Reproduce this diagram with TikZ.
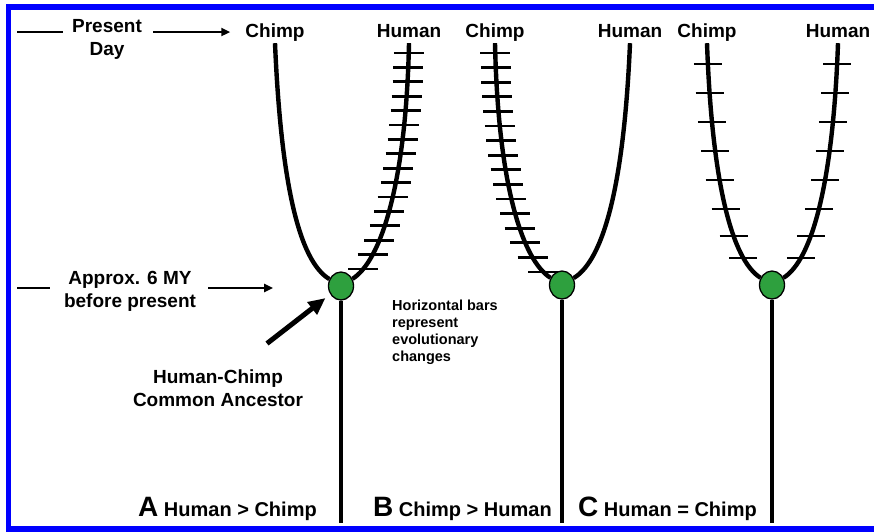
\documentclass[tikz,border=0pt]{standalone}
\usepackage{fontspec}
\setmainfont{Liberation Sans}
\usetikzlibrary{arrows.meta, intersections, shapes.geometric}
\definecolor{frameblue}{RGB}{0, 0, 255}
\definecolor{ancgreen}{RGB}{46, 160, 62}

\tikzset{
  lbl/.style={font=\bfseries\fontsize{19}{23}\selectfont, inner sep=2pt},
  taxon/.style={lbl, text height=14pt, text depth=4pt},
  anc/.style={ellipse, draw=black, line width=1.3pt, fill=ancgreen,
    minimum width=25pt, minimum height=28pt, inner sep=0pt},
  lineage/.style={line width=4.4pt},
  bar/.style={line width=2.8pt},
  pointer/.style={line width=2.6pt, -{Triangle[length=9pt, width=8pt]}},
  bigpointer/.style={line width=5pt, -{Triangle[length=17pt, width=15pt]}},
  case/.style={anchor=base west, inner sep=0pt, font=\bfseries\fontsize{20}{20}\selectfont},
}

\begin{document}
\begin{tikzpicture}[x=1pt, y=-1pt]
    \useasboundingbox (0,0) rectangle (874,531);
    \draw[frameblue, line width=5.5pt] (874,7) -- (8.5,7) -- (8.5,529) -- (874,529);

    % common ancestors
    \node[anc] (nA) at (341,286) {};
    \node[anc] (nB) at (562,285) {};
    \node[anc] (nC) at (772,285) {};

    % taxa
    \node[taxon, anchor=base] (cA) at (275,37) {Chimp};
    \node[taxon, anchor=base] (hA) at (409,37) {Human};
    \node[taxon, anchor=base] (cB) at (495,37) {Chimp};
    \node[taxon, anchor=base] (hB) at (630,37) {Human};
    \node[taxon, anchor=base] (cC) at (707,37) {Chimp};
    \node[taxon, anchor=base] (hC) at (838,37) {Human};

    % lineages
    \draw[lineage, name path=brCA] (cA.south) .. controls +(6,140) and +(-42,-25) .. (nA);
    \draw[lineage, name path=brHA] (hA.south) .. controls +(-3,140) and +(40,-25) .. (nA);
    \draw[lineage, name path=brCB] (cB.south) .. controls +(3,140) and +(-40,-25) .. (nB);
    \draw[lineage, name path=brHB] (hB.south) .. controls +(-6,140) and +(42,-25) .. (nB);
    \draw[lineage, name path=brCC] (cC.south) .. controls +(5,140) and +(-40,-25) .. (nC);
    \draw[lineage, name path=brHC] (hC.south) .. controls +(-5,140) and +(40,-25) .. (nC);
    \draw[lineage] (nA.south) -- (nA.south |- 0,523);
    \draw[lineage] (nB.south) -- (nB.south |- 0,523);
    \draw[lineage] (nC.south) -- (nC.south |- 0,523);

    % evolutionary changes
    \foreach \i [evaluate=\i as \y using 53+14.4*\i] in {0,...,15} {
        \path[name path=cut] (0,\y) -- (874,\y);
        \draw[bar, name intersections={of=brHA and cut, name=t}]
            ([xshift=-15pt]t-1) -- ([xshift=15pt]t-1);
    }
    \foreach \i [evaluate=\i as \y using 53+14.6*\i] in {0,...,15} {
        \path[name path=cut] (0,\y) -- (874,\y);
        \draw[bar, name intersections={of=brCB and cut, name=t}]
            ([xshift=-15pt]t-1) -- ([xshift=15pt]t-1);
    }
    \foreach \y in {64,93,122,151,180,209,236,258} {
        \path[name path=cut] (0,\y) -- (874,\y);
        \draw[bar, name intersections={of=brCC and cut, name=l}]
            ([xshift=-14pt]l-1) -- ([xshift=14pt]l-1);
        \draw[bar, name intersections={of=brHC and cut, name=r}]
            ([xshift=-14pt]r-1) -- ([xshift=14pt]r-1);
    }

    % time labels
    \node[lbl, align=center, anchor=north] (pd) at (107,17.5) {Present\\Day};
    \draw[bar] ([xshift=-7pt]pd.west |- cA.west) -- ++(-46,0);
    \draw[pointer] ([xshift=9pt]pd.east |- cA.west) -- ([xshift=-13pt]cA.west);
    \node[lbl, align=center, anchor=north] (ap) at (130,269.5) {Approx. 6 MY\\before present};
    \draw[bar] ([xshift=-12pt]ap.west |- 0,288) -- ++(-33,0);
    \draw[pointer] ([xshift=10pt]ap.east |- 0,288) -- ++(65,0);

    % ancestor label
    \node[lbl, align=center, anchor=north] (ca) at (218,367.5) {Human-Chimp\\Common Ancestor};
    \draw[bigpointer, shorten >=6pt] ([shift={(49,-24)}]ca.north) -- (nA);

    \node[font=\bfseries\fontsize{14.5}{17}\selectfont, align=left, anchor=north west,
        inner sep=0pt] (note) at (392,299.5) {Horizontal bars\\represent\\evolutionary\\changes};

    % cases
    \node[case] (kA) at (138,516) {{\fontsize{28}{28}\selectfont A} Human > Chimp};
    \node[case] (kB) at (373,516) {{\fontsize{28}{28}\selectfont B} Chimp > Human};
    \node[case] (kC) at (578,516) {{\fontsize{28}{28}\selectfont C} Human = Chimp};
\end{tikzpicture}
\end{document}
